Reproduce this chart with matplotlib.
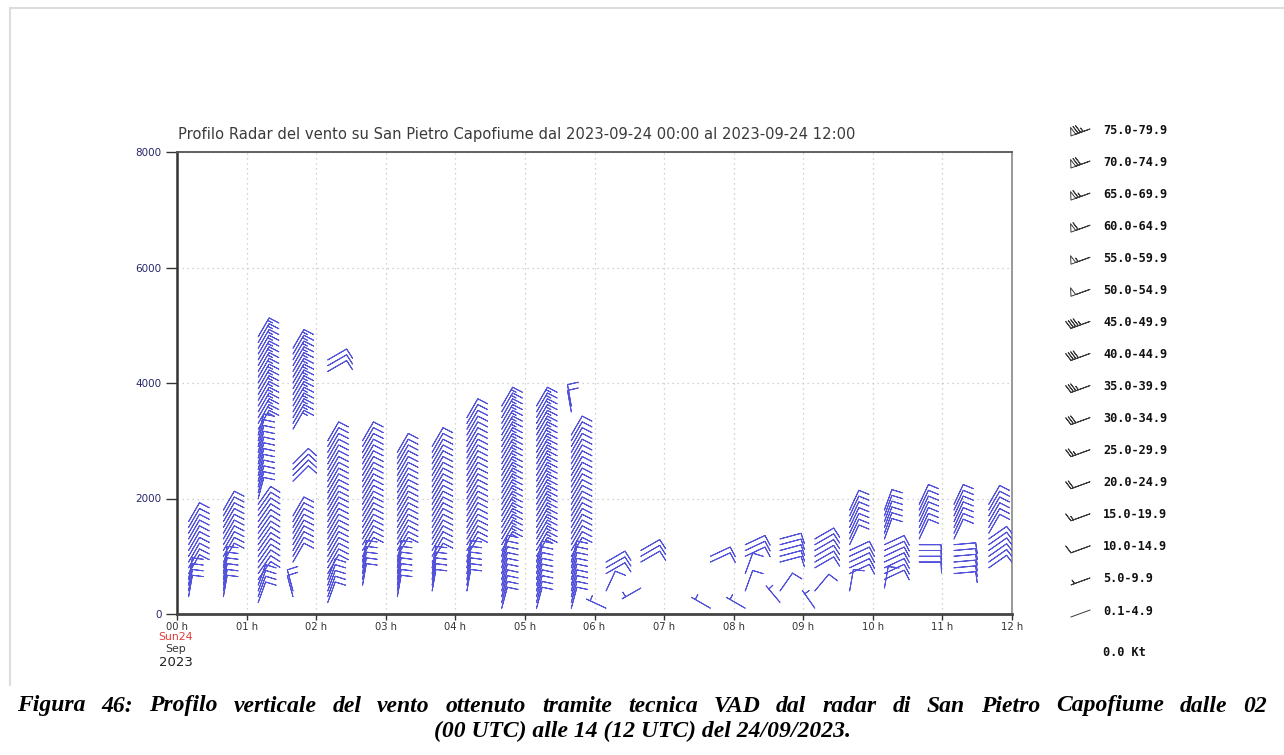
import numpy as np
import matplotlib
matplotlib.use("Agg")
import matplotlib.pyplot as plt
from matplotlib.lines import Line2D

# VAD wind layers: time of the profile, bottom/top
# base height of the layer (m), speed (kt), direction the wind comes from (deg)
lay_time = [
    "00:10", "00:10",
    "00:40", "00:40",
    "01:10", "01:10", "01:10", "01:10",
    "01:40", "01:40", "01:40", "01:40",
    "02:10", "02:10", "02:10",
    "02:40", "02:40",
    "03:10", "03:10",
    "03:40", "03:40",
    "04:10", "04:10",
    "04:40", "04:40",
    "05:10", "05:10",
    "05:40", "05:40", "05:40",
    "06:10", "06:10", "06:10",
    "06:40", "06:40",
    "07:40", "07:40",
    "08:10", "08:10", "08:10", "08:10",
    "08:40", "08:40", "08:40",
    "09:10", "09:10", "09:10",
    "09:40", "09:40", "09:40",
    "10:10", "10:10", "10:10",
    "10:40", "10:40",
    "11:10", "11:10",
    "11:40", "11:40"]

lay_bottom = [
    300, 700,
    300, 900,
    200, 600, 2000, 3200,
    300, 900, 2300, 3200,
    200, 700, 4200,
    500, 1000,
    300, 1000,
    400, 900,
    400, 1000,
    100, 1100,
    100, 1000,
    100, 1000, 3500,
    100, 400, 700,
    450, 900,
    100, 900,
    100, 400, 700, 1000,
    200, 400, 900,
    100, 400, 800,
    400, 700, 1200,
    450, 600, 1300,
    900, 1300,
    700, 1300,
    800, 1400]

lay_top = [
    600, 1600,
    800, 1850,
    500, 1900, 3100, 4850,
    400, 1700, 2600, 4650,
    600, 3000, 4400,
    900, 3050,
    900, 2800,
    800, 2950,
    900, 3400,
    1000, 3650,
    900, 3650,
    900, 3150, 3600,
    100, 400, 900,
    450, 1100,
    100, 1000,
    100, 400, 700, 1200,
    200, 400, 1300,
    100, 400, 1300,
    400, 1100, 1800,
    450, 1200, 1800,
    1200, 1900,
    1200, 1900,
    1300, 1950]

lay_speed = [
    8, 12,
    8, 12,
    8, 12, 12, 17,
    8, 12, 12, 17,
    8, 12, 12,
    8, 12,
    8, 12,
    8, 12,
    8, 12,
    8, 17,
    8, 17,
    8, 12, 12,
    5, 8, 12,
    5, 12,
    5, 12,
    5, 8, 8, 12,
    7, 8, 12,
    7, 8, 12,
    8, 12, 12,
    8, 12, 12,
    12, 12,
    12, 12,
    12, 12]

lay_dir = [
    10, 30,
    10, 30,
    20, 35, 15, 30,
    345, 30, 45, 30,
    20, 30, 60,
    10, 30,
    10, 30,
    10, 30,
    10, 30,
    15, 30,
    15, 30,
    15, 30, 350,
    295, 25, 60,
    240, 60,
    300, 65,
    300, 20, 20, 65,
    320, 35, 75,
    325, 40, 60,
    10, 65, 25,
    10, 65, 20,
    90, 25,
    85, 25,
    55, 30]

gate_step = 100  # radar VAD levels every 100 m

hour_labels = ["%02d h" % i for i in range(13)]
height_ticks = [0, 2000, 4000, 6000, 8000]

leg_labels = ["75.0-79.9", "70.0-74.9", "65.0-69.9", "60.0-64.9", "55.0-59.9",
              "50.0-54.9", "45.0-49.9", "40.0-44.9", "35.0-39.9", "30.0-34.9",
              "25.0-29.9", "20.0-24.9", "15.0-19.9", "10.0-14.9", "5.0-9.9",
              "0.1-4.9", "0.0 Kt"]
leg_speed = [77, 72, 67, 62, 57, 52, 47, 42, 37, 32, 27, 22, 17, 12, 7, 2, 0]

title = ("Profilo Radar del vento su San Pietro Capofiume dal "
         "2023-09-24 00:00 al 2023-09-24 12:00")
caption = ["Figura 46: Profilo verticale del vento ottenuto tramite tecnica VAD "
           "dal radar di San Pietro Capofiume dalle 02",
           "(00 UTC) alle 14 (12 UTC) del 24/09/2023."]

BARB_LEN = 5.6
LEG_LEN = 5.4


def expand_layers():
    t, h, s, d = [], [], [], []
    for tm, b, tp, sp, dr in zip(lay_time, lay_bottom, lay_top, lay_speed, lay_dir):
        hh, mm = tm.split(":")
        x = int(hh) + int(mm) / 60.0
        for z in range(b, tp + 1, gate_step):
            t.append(x)
            h.append(z)
            s.append(sp)
            d.append(dr)
    return np.array(t), np.array(h), np.array(s, float), np.array(d, float)


def uv(speed, direction):
    rad = np.deg2rad(direction)
    return -speed * np.sin(rad), -speed * np.cos(rad)


def justified(fig, text, x0, x1, y, **kw):
    # the caption's first line is justified between x0 and x1 (pixels)
    words = text.split(" ")
    r = fig.canvas.get_renderer()
    arts = [fig.text(0, 1 - y / H, w, ha="left", va="center", **kw) for w in words]
    widths = [a.get_window_extent(r).width for a in arts]
    gap = (x1 - x0 - sum(widths)) / (len(words) - 1)
    x = x0
    for a, w in zip(arts, widths):
        a.set_x(x / W)
        x += w + gap


W, H = 1284, 755
fig = plt.figure(figsize=(W / 100, H / 100), dpi=100)
fig.patch.set_facecolor("white")

ax = fig.add_axes([177 / W, 1 - 614 / H, (1012 - 177) / W, (614 - 152) / H])
ax.set_xlim(0, 12)
ax.set_ylim(0, 8000)

t, h, s, d = expand_layers()
u, v = uv(s, d)
ax.barbs(t, h, u, v, length=BARB_LEN, color="#5252da", linewidth=0.7,
         sizes=dict(spacing=0.13, height=0.5, width=0.05), zorder=3)

ax.set_xticks(range(13))
ax.set_xticklabels(hour_labels)
ax.set_yticks(height_ticks)
ax.set_yticklabels([str(v) for v in height_ticks])
ax.tick_params(axis="y", length=8, width=1, color="#333333", pad=3,
               labelsize=7.5, labelcolor="#27276b")
ax.tick_params(axis="x", length=4, width=1, color="#333333", pad=2,
               labelsize=7.2, labelcolor="#333333")
ax.grid(True, linestyle=(0, (1, 3)), color="#c4c4c4", linewidth=0.9)
ax.spines["left"].set_linewidth(1.8)
ax.spines["left"].set_color("#333333")
ax.spines["bottom"].set_linewidth(2)
ax.spines["bottom"].set_color("#444444")
ax.spines["top"].set_linewidth(1.3)
ax.spines["top"].set_color("#555555")
ax.spines["right"].set_linewidth(1.2)
ax.spines["right"].set_color("#888888")

fig.text(178 / W, 1 - 134 / H, title, ha="left", va="center",
         fontsize=10.6, color="#3a3a3a")

# date under the first tick
fig.text(176 / W, 1 - 637 / H, "Sun24", ha="center", va="center", fontsize=7.8, color="#e23b3b")
fig.text(176 / W, 1 - 649 / H, "Sep", ha="center", va="center", fontsize=7.8, color="#333333")
fig.text(176 / W, 1 - 663 / H, "2023", ha="center", va="center", fontsize=9.5, color="#222222")

# overlay in pixel coords for the frame and the speed legend
ov = fig.add_axes([0, 0, 1, 1])
ov.set_xlim(0, W)
ov.set_ylim(H, 0)
ov.axis("off")
ov.add_line(Line2D([9.5, W], [7.5, 7.5], color="#dddddd", linewidth=1.5))
ov.add_line(Line2D([9.5, 9.5], [7.5, 685], color="#dddddd", linewidth=1.5))

row_y = [130 + 32.07 * i for i in range(16)] + [653]
leg_dir = 250.0
lu, lv = uv(np.array(leg_speed, float), leg_dir)
has_feather = [sp >= 5 for sp in leg_speed]
bx = [1090 for f in has_feather if f]
by = [y - 1 for y, f in zip(row_y, has_feather) if f]
ov.barbs(bx, by, lu[:len(bx)], lv[:len(bx)], length=LEG_LEN,
         barbcolor="#3a3a3a", flagcolor="none", linewidth=0.7,
         sizes=dict(spacing=0.13, height=0.4, width=0.25))
# plain staff for the weakest class (barbs would draw an empty circle)
staff_px = LEG_LEN ** 2 / 2 * 100 / 72
rad = np.deg2rad(leg_dir)
for y, sp in zip(row_y, leg_speed):
    if 0 < sp < 5:
        ov.add_line(Line2D([1090, 1090 + staff_px * np.sin(rad)],
                           [y - 1, y - 1 - staff_px * np.cos(rad)],
                           color="#3a3a3a", linewidth=0.7))
for y, lab in zip(row_y, leg_labels):
    ov.text(1103, y, lab, ha="left", va="center", fontsize=8.6,
            family="DejaVu Sans Mono", weight="bold", color="#111111")

cap_font = dict(fontsize=17, family="Liberation Serif", weight="bold", style="italic")
justified(fig, caption[0], 17, 1267, 706, **cap_font)
fig.text(0.5, 1 - 731 / H, caption[1], ha="center", va="center", **cap_font)

fig.savefig("out.png", dpi=100)
